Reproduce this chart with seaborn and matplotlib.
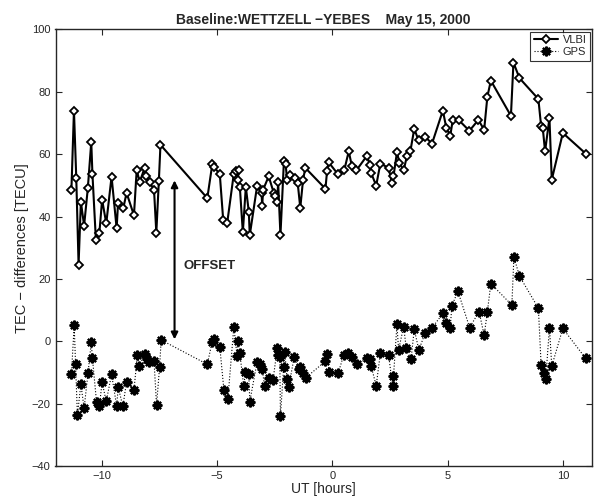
import pandas as pd
import seaborn as sns
import matplotlib.pyplot as plt

# UT [hours] and TEC differences [TECU]
t_vlbi = [-11.31, -11.2, -11.1, -11.0, -10.9, -10.76, -10.6, -10.45, -10.4, -10.25,
          -10.1, -9.98, -9.8, -9.57, -9.35, -9.29, -9.06, -8.92, -8.6, -8.48,
          -8.35, -8.14, -8.07, -7.92, -7.73, -7.63, -7.52, -7.45,
          -5.42, -5.2, -5.14, -4.88, -4.73, -4.56, -4.27, -4.16, -4.06, -4.1,
          -4.01, -3.88, -3.75, -3.62, -3.58, -3.26, -3.07, -3.04, -3.0, -2.76,
          -2.54, -2.47, -2.39, -2.35, -2.25, -2.1, -2.03, -1.96, -1.85, -1.6,
          -1.5, -1.39, -1.27, -1.17, -0.3, -0.23, -0.16,
          0.23, 0.52, 0.71, 0.85, 1.04, 1.5, 1.62, 1.68, 1.9, 2.08,
          2.44, 2.58, 2.65, 2.8, 2.91, 3.09, 3.23, 3.38, 3.55, 3.74,
          4.03, 4.32, 4.79, 4.94, 5.11, 5.22, 5.47, 5.94, 6.33, 6.58,
          6.72, 6.87, 7.74, 7.85, 8.11, 8.93, 9.05, 9.12, 9.22, 9.41,
          9.51, 9.99, 10.98]
vlbi = [48.6, 74.0, 52.4, 24.6, 44.7, 37.1, 49, 63.9, 53.8, 32.6,
        34.6, 45.4, 37.8, 52.8, 36.2, 44.2, 42.7, 47.6, 40.4, 55,
        51, 55.6, 52.9, 51, 48.6, 34.8, 51.5, 63,
        45.9, 57, 55.9, 53.7, 38.8, 37.8, 53.8, 54.5, 54.8, 51.8,
        49.5, 35, 49.5, 41.4, 34, 49.9, 47.6, 43.5, 48.6, 52.9,
        47.6, 46.5, 44.6, 51, 34, 57.7, 57, 51.8, 53.4, 52.4,
        50.6, 42.8, 51.8, 55.6, 48.9, 54.5, 57.4,
        53.7, 55, 60.9, 56.1, 54.8, 59.5, 56.6, 54, 49.9, 57,
        55.6, 50.8, 52.9, 60.6, 57.2, 54.8, 59.3, 60.9, 68.1, 64.4,
        65.5, 63.4, 74, 68.4, 65.9, 71, 71, 67.5, 71, 67.8,
        78.5, 83.6, 72.3, 89.4, 84.4, 77.7, 68.9, 68.4, 60.9, 71.6,
        51.8, 66.8, 60.2]

t_gps = [-11.31, -11.19, -11.13, -11.05, -10.9, -10.76, -10.59, -10.45, -10.4, -10.22,
         -10.1, -9.98, -9.8, -9.57, -9.35, -9.28, -9.08, -8.92, -8.6, -8.45,
         -8.38, -8.14, -8.05, -7.95, -7.73, -7.62, -7.49, -7.42,
         -5.42, -5.21, -5.14, -4.88, -4.7, -4.53, -4.27, -4.13, -4.1, -4.01,
         -3.84, -3.77, -3.62, -3.58, -3.26, -3.12, -3.04, -2.94, -2.76, -2.57,
         -2.39, -2.37, -2.28, -2.25, -2.11, -2.06, -1.96, -1.89, -1.65, -1.46,
         -1.39, -1.27, -1.15, -0.3, -0.23, -0.13,
         0.25, 0.49, 0.66, 0.85, 1.07, 1.5, 1.62, 1.68, 1.9, 2.08,
         2.44, 2.61, 2.65, 2.8, 2.87, 3.09, 3.2, 3.41, 3.55, 3.75,
         4.03, 4.3, 4.79, 4.94, 5.11, 5.18, 5.44, 5.95, 6.36, 6.58,
         6.72, 6.87, 7.78, 7.87, 8.11, 8.93, 9.05, 9.19, 9.25, 9.41,
         9.51, 9.99, 10.98]
gps = [-10.6, 5.1, -7.4, -23.7, -13.8, -21.5, -10.2, -0.4, -5.4, -19.6,
       -20.9, -13.2, -19.3, -10.6, -20.7, -14.8, -20.9, -13, -15.6, -4.5,
       -7.9, -4.2, -5.8, -6.8, -6.3, -20.5, -8.4, 0.4,
       -7.4, -0.2, 0.6, -1.7, -15.7, -18.6, 4.6, -4.7, 0.1, -3.9,
       -14.5, -10, -10.6, -19.4, -6.6, -7.4, -9, -14.3, -11.9, -12.4,
       -2.3, -4.5, -4.9, -23.9, -8.4, -3.6, -12.2, -14.6, -4.9, -9,
       -8.4, -10.2, -11.7, -6.4, -4.2, -10,
       -10.3, -4.5, -3.8, -5, -7.4, -5.5, -5.8, -7.9, -14.3, -3.9,
       -4.5, -14.3, -11.3, 5.4, -2.8, 4.7, -2.1, -5.8, 3.8, -2.8,
       2.8, 4.1, 8.9, 5.8, 4.4, 11.3, 16.1, 4.4, 9.5, 1.9,
       9.5, 18.5, 11.6, 27, 20.9, 10.6, -7.7, -10.2, -12, 4.4,
       -8, 4.1, -5.5]

df_vlbi = pd.DataFrame({'UT': t_vlbi, 'TEC': vlbi})
df_gps = pd.DataFrame({'UT': t_gps, 'TEC': gps})

sns.set_style('ticks')
plt.rcParams['font.family'] = ['Liberation Sans', 'DejaVu Sans']
plt.rcParams['xtick.direction'] = 'in'
plt.rcParams['ytick.direction'] = 'in'

fig = plt.figure(figsize=(6, 5.04), dpi=100)
ax = fig.add_axes([0.0925, 0.0755, 0.894, 0.866])

sns.lineplot(data=df_vlbi, x='UT', y='TEC', sort=False, estimator=None, ax=ax,
             color='black', linewidth=1.5, label='VLBI')
vl = ax.lines[-1]
vl.set_marker('D')
vl.set_markersize(4.3)
vl.set_markerfacecolor('white')
vl.set_markeredgecolor('black')
vl.set_markeredgewidth(1.3)

sns.lineplot(data=df_gps, x='UT', y='TEC', sort=False, estimator=None, ax=ax,
             color='black', linewidth=0.8, linestyle=':', label='GPS')
gl = ax.lines[-1]
gl.set_marker((8, 2, 0))
gl.set_markersize(7)
gl.set_markeredgecolor('black')
gl.set_markeredgewidth(1.6)

# offset arrow
ax.annotate('', xy=(-6.84, 0.6), xytext=(-6.84, 51.6),
            arrowprops=dict(arrowstyle='<|-|>', color='black', lw=1.5,
                            mutation_scale=10, shrinkA=0, shrinkB=0))
ax.text(-6.45, 24, 'OFFSET', fontsize=9.5, fontweight='bold', va='center', ha='left')

ax.set_xlim(-12, 11.25)
ax.set_ylim(-40, 100)
ax.set_xticks([-10, -5, 0, 5, 10])
ax.set_yticks(range(-40, 101, 20))
ax.tick_params(labelsize=8, top=True, right=True, length=4, width=0.8)
for s in ax.spines.values():
    s.set_linewidth(1.0)
    s.set_visible(True)

ax.set_title('Baseline:WETTZELL \u2212YEBES    May 15, 2000', fontsize=10,
             fontweight='bold', pad=4)
ax.set_xlabel('UT [hours]', fontsize=10, labelpad=1)
ax.set_ylabel('TEC \u2212 differences [TECU]', fontsize=10.5, labelpad=2)

leg = ax.legend(loc='upper right', fontsize=8, frameon=True, fancybox=False,
                borderaxespad=0.2, handlelength=2.2, borderpad=0.3,
                labelspacing=0.2, handletextpad=0.4)
leg.get_frame().set_edgecolor('black')
leg.get_frame().set_linewidth(0.8)

plt.savefig('out.png', dpi=100)
plt.close()
